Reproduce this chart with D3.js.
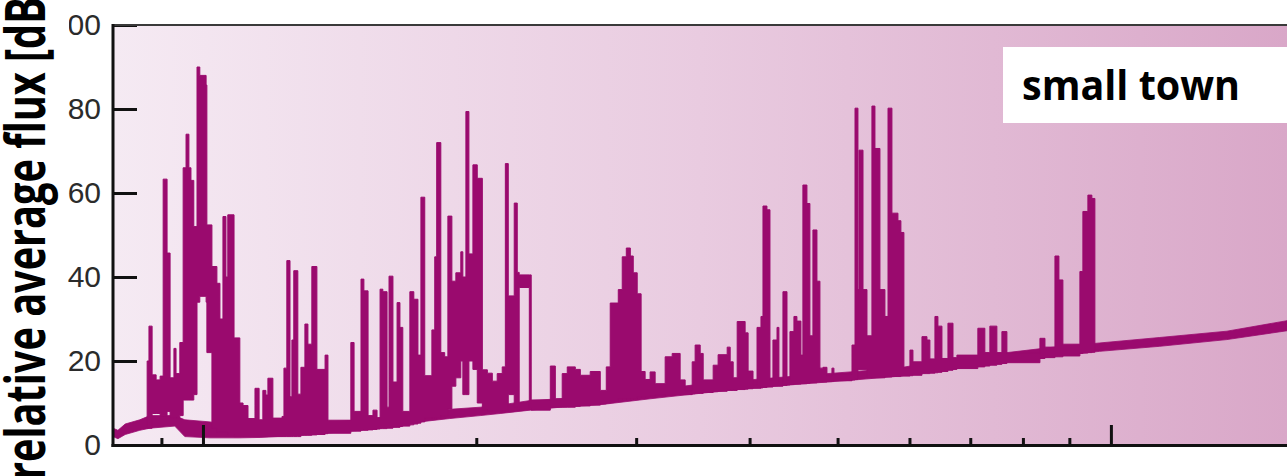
<!DOCTYPE html>
<html>
<head>
<meta charset="utf-8">
<script src="https://cdn.jsdelivr.net/npm/d3@7"></script>
<style>
  html, body { margin: 0; padding: 0; background: #ffffff; }
  svg { display: block; }
</style>
</head>
<body>
<script>
// ---------- DATA ----------
// Frequency in MHz (log axis), relative average flux in dB.
// Spectrum envelope: each point holds until the next (step).
const freq = [86.8, 87.2, 87.9, 88.8, 89.7, 90.4, 91.3, 92.0, 92.9, 93.4, 94.3, 95.1, 95.8, 96.5, 97.0, 97.7, 98.5, 99.2, 100.8, 101.0,
  102.3, 103.6, 104.4, 105.2, 106.0, 106.5, 108.2, 109.8, 110.7, 112.1, 114.1, 115.3, 116.4, 117.3, 117.9, 119.4, 122.2, 122.8, 123.7, 124.7,
  125.3, 125.9, 127.2, 128.2, 129.5, 130.5, 131.8, 133.5, 136.3, 137.3, 145.5, 146.7, 149.3, 150.4, 152.0, 153.9, 155.5, 156.7, 157.8, 159.5,
  160.3, 161.9, 163.6, 164.8, 166.0, 169.0, 170.7, 172.5, 173.8, 175.5, 178.7, 180.0, 180.9, 182.8, 184.6, 186.1, 188.0, 189.9, 192.3, 193.3,
  194.8, 196.3, 198.3, 200.5, 203.1, 205.7, 208.3, 210.9, 213.6, 215.3, 216.9, 220.2, 221.9, 223.0, 228.8, 229.9, 241.3, 244.4, 248.7, 251.9,
  257.1, 260.4, 267.0, 273.9, 278.1, 280.9, 286.7, 289.6, 292.6, 295.6, 297.8, 300.8, 303.8, 306.9, 310.8, 314.8, 322.9, 328.7, 335.4, 339.7,
  345.8, 348.4, 352.9, 355.6, 364.7, 369.3, 377.9, 380.8, 383.7, 387.6, 395.5, 398.5, 403.5, 407.6, 411.7, 413.8, 418.0, 421.2, 424.4, 428.8,
  430.9, 435.3, 439.8, 443.1, 447.6, 451.0, 455.6, 457.9, 462.6, 466.1, 469.7, 474.5, 478.1, 481.8, 486.7, 492.9, 495.4, 518.6, 522.6, 526.5,
  527.9, 533.3, 538.7, 545.5, 549.7, 556.7, 563.8, 568.2, 573.9, 582.7, 587.1, 591.6, 600.7, 605.3, 619.3, 627.2, 631.9, 640.0, 644.9, 651.5,
  661.5, 670.0, 676.7, 713.6, 726.4, 735.7, 748.9, 758.5, 768.2, 835.3, 846.0, 867.7, 876.5, 885.4, 924.4, 931.4, 943.3, 952.9, 960.2, 972.0];
const low = [4, 4, 7.5, 7.5, 7, 7, 8, 6.5, 6.5, 6.5, 7, 10.7, 10.7, 10.7, 10.7, 12, 34, 35.4, 34, 22,
  4, 3, 3, 3, 3, 2.5, 2, 2, 2, 2, 2, 2, 2, 2, 2, 2, 2, 2, 2, 2,
  2, 2, 2, 2.3, 2.3, 2.3, 2.4, 2.5, 2.7, 2.8, 3.3, 3.3, 3.5, 3.5, 3.6, 3.7, 3.8, 3.9, 3.9, 4,
  4, 4.2, 4.2, 4.4, 4.5, 4.8, 5, 5.2, 5.5, 6.4, 6.5, 6.5, 6.5, 7, 7, 8.6, 14, 16, 20, 12,
  12, 20, 18, 10, 8.4, 8.2, 8, 8, 8, 8, 12, 9, 8.3, 37.5, 8.5, 8.3, 9, 9, 9, 9,
  9.2, 9.3, 9.5, 9.8, 10, 10.5, 11, 11, 11, 11, 11, 11.5, 11.5, 11.5, 11.7, 11.8, 12, 12, 12, 12,
  12.2, 12.3, 12.3, 12.5, 12.7, 12.8, 13, 13, 13, 13.2, 13.3, 13.4, 13.5, 13.5, 13.6, 13.7, 13.8, 13.8, 14, 14,
  14, 14.2, 14.3, 14.4, 14.5, 14.5, 14.6, 14.6, 14.7, 14.8, 14.8, 15, 15, 15, 15.1, 15.2, 15.3, 15.5, 15.6, 18,
  18, 18, 16, 16, 16, 16, 16.2, 16.2, 16.3, 16.3, 16.4, 16.4, 16.5, 16.6, 17, 17, 17.1, 17.2, 17.3, 17.5,
  17.8, 18, 18.2, 18.6, 18.8, 19, 19.2, 19.4, 19.6, 20.6, 20.8, 21, 21, 21.2, 21.8, 21.9, 22, 22.1, 22.6, 22.6];
const high = [20, 28.3, 16.7, 15.5, 16.4, 63.3, 45.7, 16, 23, 17, 24.4, 66, 74, 66, 63, 52, 90, 88, 85.7, 52.4,
  42.5, 38.5, 30, 54.4, 40, 54.8, 25.5, 10, 9.4, 6.3, 13.5, 6, 13, 11.9, 15.9, 6.4, 6.8, 18.3, 43.9, 11.5,
  25, 41.5, 12.1, 18.5, 28.8, 24, 42.5, 18, 21.4, 5.9, 24.4, 8, 39.5, 36.7, 7, 8.3, 6.5, 37.1, 36.5, 9,
  40.2, 15, 33.9, 28, 8, 36.5, 34.7, 21.4, 59, 16.5, 27.4, 44.8, 72, 22, 21, 54.5, 39, 41, 46, 40,
  79.4, 45.5, 66.7, 63.5, 17.9, 17.1, 15.2, 17, 18.6, 67, 35.5, 57.6, 41.1, 40.5, 40.5, 10.7, 18.8, 11, 17, 18.6,
  18, 16.6, 17.5, 13, 18.6, 33.8, 37, 44.8, 46.9, 45, 41, 36, 17.5, 15.6, 17.4, 14.6, 21, 21.8, 15.5, 12.9,
  19.8, 23.8, 21.8, 15.5, 19, 21.5, 23.3, 19.8, 16, 29.4, 26.7, 17.6, 14.4, 28, 30.6, 56.9, 56, 15.5, 25, 28,
  15, 36.5, 15.5, 27, 30.6, 29.5, 21.4, 61.9, 57.5, 26, 51.2, 39, 18.3, 18.5, 16.5, 18.3, 16.8, 23.8, 80.2, 37,
  70.2, 37, 26, 80.7, 70.6, 37, 30.6, 80.2, 55.2, 53.4, 50.6, 18.3, 22.6, 19.8, 25.8, 25, 20.5, 30.6, 28.3, 20.6,
  29, 20.8, 21.4, 27.8, 22, 28.3, 22, 27, 21.8, 25.4, 23.3, 45, 39.3, 24, 41.3, 55.6, 59.5, 58.7, 22.6, 22.6];

// Noise floor band of the same trace
const floorFreq = [79.6, 80.6, 82.1, 85.2, 87.4, 93.1, 95.5, 101.8, 109.8, 115.6, 127.9, 138.0, 148.9, 164.8, 173.3, 187.0,
  202.0, 212.5, 229.4, 247.5, 273.9, 310.8, 352.9, 400, 454.5, 516, 585.6, 664.8, 754.6, 856.8, 972.2, 1132, 1342, 1563];
const floorLow = [2.0, 1.5, 2.5, 3.5, 4.0, 4.5, 2.0, 1.7, 1.7, 1.8, 2.3, 2.9, 3.5, 4.5, 5.5, 6.3,
  7.0, 7.5, 8.3, 9.0, 9.6, 11.0, 12.3, 13.5, 14.5, 15.4, 16.4, 18.0, 19.6, 21.0, 22.3, 23.5, 25.1, 27.2];
const floorHigh = [4.0, 3.5, 5.0, 6.0, 7.0, 7.0, 6.0, 5.5, 4.5, 4.5, 4.5, 5.5, 6.0, 7.0, 7.5, 8.5,
  9.0, 9.5, 10.6, 11.0, 11.8, 13.0, 14.5, 15.5, 16.5, 17.4, 18.4, 20.3, 21.8, 23.2, 24.3, 25.6, 27.1, 29.6];

const yTicks = [0, 20, 40, 60, 80, 100];
const xMinorTicks = [90, 200, 300, 400, 500, 600, 700, 800, 900];
const xMajorTicks = [100, 1000];
const yTitle = "relative average flux [dB]";
const boxLabel = "small town";

// ---------- CHART ----------
const W = 1287, H = 476;
const pLeft = 113, pRight = 1287, pTop = 25, pBottom = 445;
const color = "#9a0a6e";

const svg = d3.select("body").append("svg").attr("width", W).attr("height", H);

const x = d3.scaleLog().domain([79.6, 1563]).range([pLeft, pRight]);
const y = d3.scaleLinear().domain([0, 100]).range([pBottom, pTop]);

const defs = svg.append("defs");
const grad = defs.append("linearGradient").attr("id", "bg")
  .attr("gradientUnits", "userSpaceOnUse")
  .attr("x1", pLeft).attr("x2", pRight).attr("y1", 0).attr("y2", 0);
grad.append("stop").attr("offset", "0%").attr("stop-color", "#f5eaf3");
grad.append("stop").attr("offset", "50%").attr("stop-color", "#e9cbe0");
grad.append("stop").attr("offset", "100%").attr("stop-color", "#d9a7c8");

svg.append("rect").attr("x", pLeft).attr("y", pTop)
  .attr("width", pRight - pLeft).attr("height", pBottom - pTop)
  .attr("fill", "url(#bg)");

const floorData = floorFreq.map((f, i) => ({ f, lo: floorLow[i], hi: floorHigh[i] }));
const mainData = freq.map((f, i) => ({ f, lo: low[i], hi: high[i] }));

svg.append("path").datum(floorData)
  .attr("d", d3.area().x(d => x(d.f)).y0(d => y(d.lo)).y1(d => y(d.hi)).curve(d3.curveLinear))
  .attr("fill", color).attr("stroke", color).attr("stroke-width", 0.8);

svg.append("path").datum(mainData)
  .attr("d", d3.area().x(d => x(d.f)).y0(d => y(d.lo)).y1(d => y(d.hi)).curve(d3.curveStepAfter))
  .attr("fill", color).attr("stroke", color).attr("stroke-width", 1).attr("stroke-linejoin", "miter");

// Y axis (inward ticks)
const yAxis = svg.append("g").attr("transform", `translate(${pLeft},0)`)
  .call(d3.axisLeft(y).tickValues(yTicks).tickSize(-24).tickPadding(12).tickFormat(d => d));
yAxis.select(".domain").remove();
yAxis.selectAll(".tick line").attr("stroke", "#111").attr("stroke-width", 3);
yAxis.selectAll(".tick text")
  .attr("font-family", "'Liberation Sans', Arial, sans-serif")
  .attr("font-size", 30).attr("fill", "#2b2b2b");

// X axis (inward ticks, no labels)
const xMinor = svg.append("g").attr("transform", `translate(0,${pBottom})`)
  .call(d3.axisBottom(x).tickValues(xMinorTicks).tickSize(-7).tickFormat(""));
xMinor.select(".domain").remove();
xMinor.selectAll(".tick line").attr("stroke", "#111").attr("stroke-width", 3);
const xMajor = svg.append("g").attr("transform", `translate(0,${pBottom})`)
  .call(d3.axisBottom(x).tickValues(xMajorTicks).tickSize(-20).tickFormat(""));
xMajor.select(".domain").remove();
xMajor.selectAll(".tick line").attr("stroke", "#111").attr("stroke-width", 3);

// Frame lines
svg.append("line").attr("x1", pLeft).attr("x2", pRight).attr("y1", pTop).attr("y2", pTop)
  .attr("stroke", "#3a3a3a").attr("stroke-width", 2);
svg.append("line").attr("x1", pLeft).attr("x2", pLeft).attr("y1", pTop - 1).attr("y2", pBottom + 2)
  .attr("stroke", "#111").attr("stroke-width", 3);
svg.append("line").attr("x1", pLeft - 1.5).attr("x2", pRight).attr("y1", pBottom + 0.5).attr("y2", pBottom + 0.5)
  .attr("stroke", "#111").attr("stroke-width", 3);

// Label box
svg.append("rect").attr("x", 1003).attr("y", 47).attr("width", pRight - 1003).attr("height", 76)
  .attr("fill", "#ffffff");
svg.append("text").attr("x", 1022).attr("y", 100)
  .attr("font-family", "'Open Sans', 'Noto Sans', sans-serif").attr("font-weight", 700)
  .attr("font-size", 42).attr("fill", "#000")
  .attr("textLength", 218).attr("lengthAdjust", "spacingAndGlyphs")
  .text(boxLabel);

// Y title (with its white backing)
svg.append("rect").attr("x", 0).attr("y", 0).attr("width", 69).attr("height", 35).attr("fill", "#fff");
svg.append("text")
  .attr("transform", "translate(45,480) rotate(-90)")
  .attr("font-family", "'Open Sans', 'Noto Sans', sans-serif").attr("font-weight", 700)
  .attr("font-size", 55).attr("fill", "#000")
  .attr("textLength", 496).attr("lengthAdjust", "spacingAndGlyphs")
  .text(yTitle);
</script>
</body>
</html>
